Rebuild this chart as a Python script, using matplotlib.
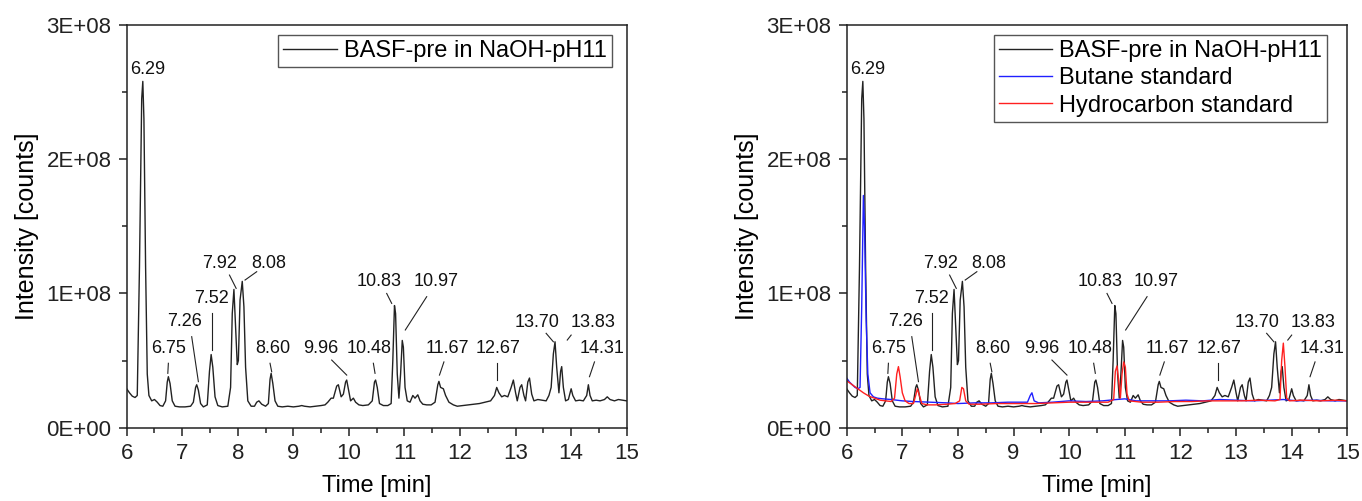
import matplotlib
matplotlib.use("Agg")
import matplotlib.pyplot as plt
from matplotlib.ticker import MultipleLocator, FuncFormatter

# ---------------- data (intensity in units of 1E+08 counts) ----------------
black_t = [6.00, 6.05, 6.10, 6.15, 6.19, 6.23, 6.27, 6.29, 6.31, 6.34, 6.37, 6.40, 6.45, 6.50,
           6.55, 6.60, 6.65, 6.70, 6.73, 6.75, 6.78, 6.82, 6.87, 6.95, 7.05, 7.15, 7.20, 7.24,
           7.26, 7.29, 7.33, 7.38, 7.45, 7.49, 7.52, 7.55, 7.59, 7.64, 7.72, 7.82, 7.87, 7.90,
           7.93, 7.96, 7.99, 8.01, 8.04, 8.08, 8.11, 8.14, 8.18, 8.24, 8.30, 8.34, 8.38, 8.43,
           8.50, 8.55, 8.58, 8.60, 8.63, 8.67, 8.72, 8.80, 8.90, 9.00, 9.10, 9.15, 9.20, 9.30,
           9.40, 9.50, 9.57, 9.62, 9.68, 9.72, 9.78, 9.81, 9.86, 9.90, 9.94, 9.96, 9.99, 10.03,
           10.08, 10.12, 10.18, 10.25, 10.35, 10.42, 10.46, 10.48, 10.51, 10.55, 10.62, 10.70,
           10.76, 10.79, 10.82, 10.84, 10.87, 10.90, 10.93, 10.96, 10.98, 11.01, 11.05, 11.10,
           11.15, 11.19, 11.24, 11.28, 11.33, 11.40, 11.48, 11.55, 11.60, 11.62, 11.65, 11.70,
           11.74, 11.80, 11.88, 11.95, 12.05, 12.15, 12.25, 12.35, 12.45, 12.55, 12.62, 12.66,
           12.70, 12.75, 12.80, 12.86, 12.92, 12.96, 13.00, 13.03, 13.08, 13.11, 13.15, 13.18,
           13.22, 13.25, 13.29, 13.33, 13.40, 13.48, 13.55, 13.60, 13.64, 13.68, 13.71, 13.74,
           13.78, 13.81, 13.83, 13.86, 13.90, 13.95, 14.00, 14.03, 14.08, 14.15, 14.22, 14.28,
           14.31, 14.34, 14.38, 14.45, 14.52, 14.60, 14.65, 14.70, 14.78, 14.85, 14.92, 15.00]
black_i = [0.29, 0.26, 0.235, 0.225, 0.24, 1.2, 2.45, 2.58, 2.3, 1.2, 0.4, 0.24, 0.2, 0.21,
           0.19, 0.165, 0.16, 0.2, 0.34, 0.38, 0.33, 0.2, 0.16, 0.155, 0.155, 0.16, 0.19, 0.3,
           0.32, 0.28, 0.18, 0.155, 0.17, 0.42, 0.545, 0.45, 0.23, 0.165, 0.155, 0.16, 0.3, 0.85,
           1.03, 0.75, 0.47, 0.5, 0.95, 1.09, 0.9, 0.45, 0.2, 0.16, 0.16, 0.19, 0.2, 0.175,
           0.16, 0.18, 0.36, 0.405, 0.33, 0.2, 0.16, 0.155, 0.16, 0.155, 0.16, 0.165, 0.16, 0.155,
           0.16, 0.165, 0.17, 0.19, 0.22, 0.22, 0.31, 0.32, 0.23, 0.25, 0.34, 0.355, 0.29, 0.2,
           0.22, 0.19, 0.17, 0.165, 0.17, 0.2, 0.34, 0.355, 0.3, 0.18, 0.165, 0.165,
           0.18, 0.5, 0.91, 0.85, 0.4, 0.22, 0.4, 0.65, 0.6, 0.3, 0.2, 0.19,
           0.24, 0.22, 0.245, 0.2, 0.175, 0.17, 0.17, 0.19, 0.32, 0.345, 0.3, 0.29,
           0.24, 0.19, 0.17, 0.16, 0.165, 0.17, 0.175, 0.18, 0.19, 0.2, 0.24, 0.3,
           0.26, 0.23, 0.24, 0.23, 0.3, 0.355, 0.26, 0.2, 0.3, 0.32, 0.24, 0.2,
           0.34, 0.37, 0.25, 0.2, 0.21, 0.205, 0.2, 0.24, 0.3, 0.55, 0.64, 0.45,
           0.26, 0.42, 0.455, 0.3, 0.2, 0.21, 0.29, 0.24, 0.2, 0.205, 0.2, 0.24,
           0.32, 0.24, 0.2, 0.205, 0.2, 0.21, 0.23, 0.21, 0.2, 0.21, 0.205, 0.2]

blue_t = [6.00, 6.05, 6.10, 6.15, 6.20, 6.24, 6.27, 6.30, 6.32, 6.35, 6.38, 6.42, 6.48, 6.55,
          6.65, 6.80, 7.00, 7.20, 7.50, 7.80, 8.00, 8.30, 8.60, 8.90, 9.10, 9.25, 9.30, 9.33,
          9.37, 9.45, 9.70, 10.00, 10.30, 10.60, 10.85, 11.00, 11.20, 11.50, 11.80, 12.10,
          12.40, 12.70, 13.00, 13.30, 13.60, 13.85, 14.10, 14.40, 14.70, 15.00]
blue_i = [0.37, 0.34, 0.32, 0.30, 0.29, 0.30, 0.9, 1.73, 1.5, 0.8, 0.4, 0.26, 0.23, 0.22,
          0.215, 0.21, 0.2, 0.195, 0.19, 0.185, 0.18, 0.185, 0.185, 0.19, 0.19, 0.19, 0.24, 0.26,
          0.2, 0.185, 0.19, 0.2, 0.195, 0.2, 0.21, 0.215, 0.2, 0.2, 0.2, 0.205,
          0.2, 0.21, 0.205, 0.2, 0.205, 0.21, 0.2, 0.205, 0.2, 0.2]

red_t = [6.00, 6.10, 6.20, 6.30, 6.40, 6.50, 6.60, 6.70, 6.80, 6.86, 6.90, 6.93, 6.96, 7.00,
         7.05, 7.12, 7.20, 7.24, 7.27, 7.30, 7.35, 7.45, 7.60, 7.80, 7.95, 8.03, 8.07, 8.10,
         8.14, 8.20, 8.40, 8.70, 9.00, 9.40, 9.70, 10.00, 10.40, 10.70, 10.80, 10.83, 10.86,
         10.89, 10.92, 10.95, 10.98, 11.01, 11.04, 11.08, 11.30, 11.60, 11.90, 12.20, 12.50,
         12.80, 13.10, 13.40, 13.70, 13.79, 13.82, 13.85, 13.88, 13.91, 13.96, 14.20, 14.50,
         14.80, 15.00]
red_i = [0.35, 0.32, 0.29, 0.26, 0.235, 0.22, 0.205, 0.2, 0.195, 0.22, 0.4, 0.455, 0.38, 0.26,
         0.2, 0.18, 0.18, 0.24, 0.29, 0.25, 0.18, 0.17, 0.17, 0.175, 0.18, 0.2, 0.3, 0.29,
         0.2, 0.175, 0.175, 0.18, 0.18, 0.18, 0.185, 0.19, 0.19, 0.19, 0.21, 0.42, 0.46,
         0.35, 0.22, 0.4, 0.49, 0.45, 0.25, 0.2, 0.19, 0.19, 0.195, 0.195, 0.2,
         0.2, 0.2, 0.205, 0.2, 0.21, 0.5, 0.63, 0.45, 0.22, 0.2, 0.205, 0.2,
         0.205, 0.2]

peak_labels = ["6.29", "6.75", "7.26", "7.52", "7.92", "8.08", "8.60", "9.96", "10.48",
               "10.83", "10.97", "11.67", "12.67", "13.70", "13.83", "14.31"]

series_names = ["BASF-pre in NaOH-pH11", "Butane standard", "Hydrocarbon standard"]
UNIT = 1e8

# ---------------- layout of labels (text centre, leader line start, leader line end) ----
label_text_pos = [(6.37, 2.665), (6.75, 0.59), (7.05, 0.79), (7.53, 0.963), (7.68, 1.224),
                  (8.55, 1.224), (8.63, 0.59), (9.50, 0.59), (10.37, 0.59), (10.55, 1.09),
                  (11.57, 1.09), (11.77, 0.59), (12.69, 0.59), (13.38, 0.782), (14.39, 0.782),
                  (14.55, 0.59)]
label_lines = [None,
               ((6.75, 0.48), (6.74, 0.405)),
               ((7.17, 0.678), (7.29, 0.343)),
               ((7.54, 0.852), (7.54, 0.579)),
               ((7.85, 1.137), (7.97, 1.038)),
               ((8.34, 1.162), (8.13, 1.10)),
               ((8.58, 0.48), (8.61, 0.417)),
               ((9.69, 0.504), (9.96, 0.392)),
               ((10.44, 0.48), (10.47, 0.405)),
               ((10.68, 1.0), (10.77, 0.926)),
               ((11.40, 0.976), (11.015, 0.728)),
               ((11.71, 0.49), (11.63, 0.392)),
               ((12.67, 0.48), (12.67, 0.355)),
               ((13.55, 0.703), (13.68, 0.64)),
               ((14.0, 0.69), (13.93, 0.653)),
               ((14.42, 0.49), (14.33, 0.38))]

plt.rcParams['font.family'] = ['Liberation Sans', 'DejaVu Sans']

W, H = 1362, 501
fig = plt.figure(figsize=(W / 100, H / 100), dpi=100)

def px_axes(x0, x1, y0, y1):
    return fig.add_axes([x0 / W, 1 - y1 / H, (x1 - x0) / W, (y1 - y0) / H])

ax1 = px_axes(126.7, 626.7, 25, 427.7)
ax2 = px_axes(846.7, 1347.3, 25, 427.7)

def style(ax):
    ax.set_xlim(6, 15)
    ax.set_ylim(0, 3e8)
    ax.xaxis.set_major_locator(MultipleLocator(1))
    ax.xaxis.set_minor_locator(MultipleLocator(0.5))
    ax.yaxis.set_major_locator(MultipleLocator(1e8))
    ax.yaxis.set_minor_locator(MultipleLocator(0.5e8))
    ax.yaxis.set_major_formatter(FuncFormatter(lambda v, p: "%.0E" % v))
    ax.tick_params(which='major', direction='out', length=6, width=1.1, labelsize=16,
                   top=False, right=False, pad=5, colors='#222222')
    ax.tick_params(which='minor', direction='out', length=3.5, width=1.1,
                   top=False, right=False, colors='#222222')
    for s in ax.spines.values():
        s.set_linewidth(1.1)
        s.set_color('#222222')
    ax.set_xlabel("Time [min]", fontsize=17, labelpad=8)
    ax.set_ylabel("Intensity [counts]", fontsize=18, labelpad=5)
    for txt, (tx, ty), ln in zip(peak_labels, label_text_pos, label_lines):
        ax.text(tx, ty * UNIT, txt, fontsize=13, ha='center', va='center', color='#111111')
        if ln is not None:
            (xa, ya), (xb, yb) = ln
            ax.plot([xa, xb], [ya * UNIT, yb * UNIT], color='#222222', lw=0.8)

def add_legend(ax, anchor_x):
    ax.legend(loc='upper right', bbox_to_anchor=(anchor_x, 0.975), borderaxespad=0,
              fontsize=17, frameon=True, fancybox=False, edgecolor='#555555',
              framealpha=1, handlelength=2.25, handletextpad=0.3, borderpad=0.22,
              labelspacing=0.22)

bt = black_t
bi = [v * UNIT for v in black_i]

ax1.plot(bt, bi, color='#222222', lw=1.0, label=series_names[0])
style(ax1)
add_legend(ax1, 0.970)

ax2.plot(bt, bi, color='#222222', lw=1.0, label=series_names[0])
ax2.plot(blue_t, [v * UNIT for v in blue_i], color='#2020ff', lw=1.0, label=series_names[1])
ax2.plot(red_t, [v * UNIT for v in red_i], color='#ff2020', lw=1.0, label=series_names[2])
style(ax2)
add_legend(ax2, 0.960)

fig.savefig("out.png", dpi=100)
